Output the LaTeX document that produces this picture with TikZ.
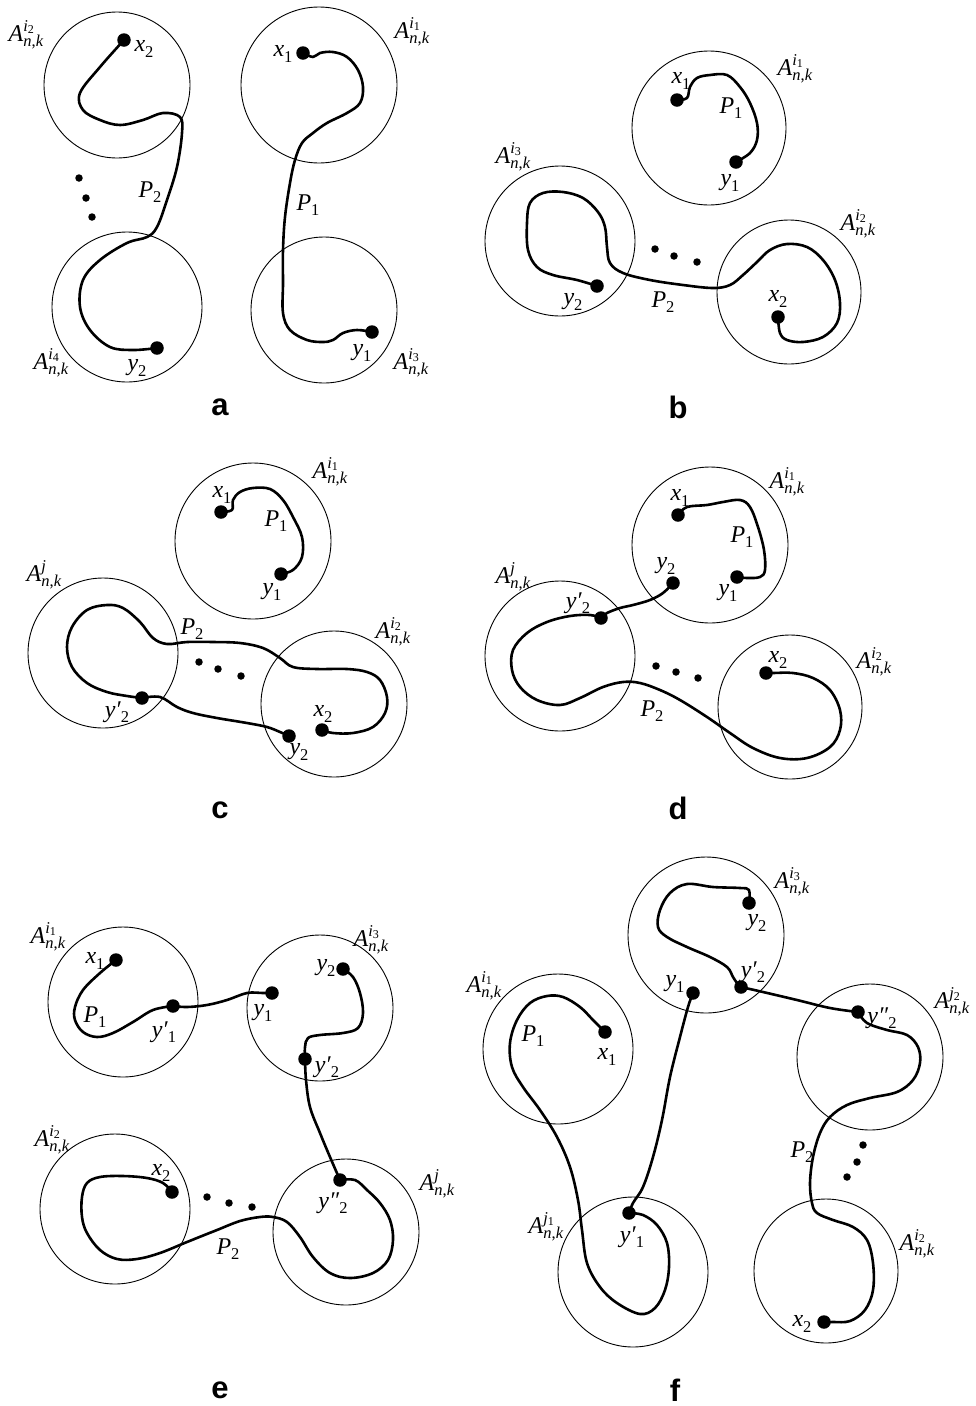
\documentclass[tikz,border=0pt]{standalone}
\usepackage{fontspec}
\setmainfont{Liberation Serif}
\setsansfont{Liberation Sans}
\newcommand{\mf}{\fontsize{24}{26}\selectfont}
\newcommand{\sfn}{\fontsize{16.5}{18}\selectfont}
\newcommand{\ssf}{\fontsize{12}{13}\selectfont}
\newcommand{\Ank}[1]{\textit{A}\rlap{\raisebox{10pt}{\sfn #1}}\raisebox{-5.5pt}{\sfn\textit{n},\textit{k}}}
\newcommand{\supidx}[2]{\textit{#1}\raisebox{-2.5pt}{\ssf #2}}
\newcommand{\lsub}[2]{\textit{#1}\raisebox{-5.5pt}{\sfn #2}}
\tikzset{
  zone/.style={draw, circle, line width=0.9pt, inner sep=0pt},
  bigdot/.style={circle, fill, inner sep=0pt, minimum size=13.5pt},
  smalldot/.style={circle, fill, inner sep=0pt, minimum size=7.5pt},
  curve/.style={line width=2.6pt, line join=round, line cap=round},
  lbl/.style={font=\mf, inner sep=0pt},
  panel/.style={font=\sffamily\bfseries\fontsize{31}{31}\selectfont, inner sep=0pt}
}
\begin{document}
\begin{tikzpicture}[x=1pt,y=-1pt]
\useasboundingbox (0,0) rectangle (975,1406);
% ================= panel a
\node[zone, minimum size=146pt] (aC1) at (117,85) {};
\node[zone, minimum size=156pt] (aC2) at (319,85) {};
\node[zone, minimum size=150pt] (aC3) at (127,307) {};
\node[zone, minimum size=146pt] (aC4) at (324,310) {};
\node[bigdot] (ax2) at (124,40) {};
\node[bigdot] (ax1) at (303,53) {};
\node[bigdot] (ay2) at (157,348) {};
\node[bigdot] (ay1) at (372,332) {};
\node[smalldot] (ad1) at (79,178) {};
\node[smalldot] (ad2) at (86,198) {};
\node[smalldot] (ad3) at (92,217) {};
\draw[curve] plot[smooth, tension=0.6] coordinates {(ax2.center) (100,67) (80,93) (83,110) (100,120) (120,125) (143,120) (163,113) (180,117) (182,133) (177,167) (167,200) (157,227) (147,237) (127,243) (100,260) (83,280) (80,307) (90,330) (110,347) (133,350) (ay2.center)};
\draw[curve] plot[smooth, tension=0.6] coordinates {(ax1.center) (313,57) (320,53) (333,52) (347,57) (358,70) (363,87) (360,103) (347,113) (327,123) (313,133) (302,143) (295,160) (290,183) (285,217) (283,250) (283,283) (283,313) (290,330) (307,340) (323,342) (333,340) (343,333) (357,330) (ay1.center)};
\node[lbl] (aL1) at (26,35) {\Ank{\supidx{i}{2}}};
\node[lbl] (aL2) at (144,49) {\lsub{x}{2}};
\node[lbl] (aL3) at (412,32) {\Ank{\supidx{i}{1}}};
\node[lbl] (aL4) at (283,54) {\lsub{x}{1}};
\node[lbl] (aL5) at (150,192) {\lsub{P}{2}};
\node[lbl] (aL6) at (308,205) {\lsub{P}{1}};
\node[lbl] (aL7) at (51,363) {\Ank{\supidx{i}{4}}};
\node[lbl] (aL8) at (137,368) {\lsub{y}{2}};
\node[lbl] (aL9) at (362,353) {\lsub{y}{1}};
\node[lbl] (aL10) at (411,363) {\Ank{\supidx{i}{3}}};
\node[panel] (aT) at (220,407) {a};
% ================= panel b
\node[zone, minimum size=154pt] (bC1) at (709,128) {};
\node[zone, minimum size=150pt] (bC2) at (560,241) {};
\node[zone, minimum size=144pt] (bC3) at (789,292) {};
\node[bigdot] (bx1) at (677,100) {};
\node[bigdot] (by1) at (736,162) {};
\node[bigdot] (by2) at (597,286) {};
\node[bigdot] (bx2) at (778,317) {};
\node[smalldot] (bd1) at (655,249) {};
\node[smalldot] (bd2) at (674,256) {};
\node[smalldot] (bd3) at (697,262) {};
\draw[curve] plot[smooth, tension=0.6] coordinates {(bx1.center) (687,98) (690,87) (697,78) (710,75) (727,75) (740,87) (750,103) (757,123) (757,140) (750,153) (by1.center)};
\draw[curve] plot[smooth, tension=0.6] coordinates {(by2.center) (577,280) (553,275) (537,267) (528,250) (527,223) (530,203) (543,193) (563,192) (583,198) (598,212) (605,227) (607,247) (610,263) (623,273) (650,280) (683,285) (713,288) (730,285) (743,275) (757,262) (770,250) (787,244) (807,247) (823,260) (835,280) (840,303) (837,323) (823,337) (803,342) (787,340) (780,333) (bx2.center)};
\node[lbl] (bL1) at (681,81) {\lsub{x}{1}};
\node[lbl] (bL2) at (795,69) {\Ank{\supidx{i}{1}}};
\node[lbl] (bL3) at (731,108) {\lsub{P}{1}};
\node[lbl] (bL4) at (730,183) {\lsub{y}{1}};
\node[lbl] (bL5) at (513,157) {\Ank{\supidx{i}{3}}};
\node[lbl] (bL6) at (858,224) {\Ank{\supidx{i}{2}}};
\node[lbl] (bL7) at (573,302) {\lsub{y}{2}};
\node[lbl] (bL8) at (663,302) {\lsub{P}{2}};
\node[lbl] (bL9) at (778,299) {\lsub{x}{2}};
\node[panel] (bT) at (678,407) {b};
% ================= panel c
\node[zone, minimum size=156pt] (cC1) at (253,541) {};
\node[zone, minimum size=150pt] (cC2) at (103,653) {};
\node[zone, minimum size=146pt] (cC3) at (334,704) {};
\node[bigdot] (cx1) at (221,512) {};
\node[bigdot] (cy1) at (281,574) {};
\node[bigdot] (cyp2) at (142,698) {};
\node[bigdot] (cy2) at (289,736) {};
\node[bigdot] (cx2) at (322,730) {};
\node[smalldot] (cd1) at (199,662) {};
\node[smalldot] (cd2) at (218,669) {};
\node[smalldot] (cd3) at (241,676) {};
\draw[curve] plot[smooth, tension=0.6] coordinates {(cx1.center) (232,510) (233,500) (240,492) (253,488) (270,489) (283,500) (293,517) (302,537) (302,557) (293,570) (cy1.center)};
\draw[curve] plot[smooth, tension=0.6] coordinates {(cx2.center) (333,733) (353,733) (373,727) (385,713) (387,697) (380,680) (367,672) (347,669) (317,669) (293,667) (280,658) (263,648) (240,643) (213,642) (187,642) (167,644) (153,638) (140,622) (123,608) (107,605) (87,610) (72,627) (67,647) (72,667) (87,683) (107,692) (127,696) (cyp2.center)};
\draw[curve] plot[smooth, tension=0.6] coordinates {(cyp2.center) (160,697) (177,707) (193,713) (217,718) (247,723) (267,727) (280,732) (cy2.center)};
\node[lbl] (cL1) at (222,495) {\lsub{x}{1}};
\node[lbl] (cL2) at (330,472) {\Ank{\supidx{i}{1}}};
\node[lbl] (cL3) at (276,521) {\lsub{P}{1}};
\node[lbl] (cL4) at (272,592) {\lsub{y}{1}};
\node[lbl] (cL5) at (44,575) {\Ank{\textit{j}}};
\node[lbl] (cL6) at (192,629) {\lsub{P}{2}};
\node[lbl] (cL7) at (393,632) {\Ank{\supidx{i}{2}}};
\node[lbl] (cL8) at (117,712) {\lsub{y′}{2}};
\node[lbl] (cL9) at (323,714) {\lsub{x}{2}};
\node[lbl] (cL10) at (299,752) {\lsub{y}{2}};
\node[panel] (cT) at (220,810) {c};
% ================= panel d
\node[zone, minimum size=156pt] (dC1) at (710,545) {};
\node[zone, minimum size=150pt] (dC2) at (560,656) {};
\node[zone, minimum size=144pt] (dC3) at (790,707) {};
\node[bigdot] (dx1) at (678,515) {};
\node[bigdot] (dy1) at (737,577) {};
\node[bigdot] (dy2) at (673,583) {};
\node[bigdot] (dyp2) at (601,618) {};
\node[bigdot] (dx2) at (766,673) {};
\node[smalldot] (dd1) at (656,666) {};
\node[smalldot] (dd2) at (676,672) {};
\node[smalldot] (dd3) at (698,678) {};
\draw[curve] plot[smooth, tension=0.6] coordinates {(dx1.center) (687,507) (707,505) (723,502) (740,500) (750,507) (758,527) (764,550) (765,570) (760,577) (747,578) (dy1.center)};
\draw[curve] plot[smooth, tension=0.6] coordinates {(dy2.center) (663,593) (650,600) (633,605) (620,608) (607,613) (dyp2.center)};
\draw[curve] plot[smooth, tension=0.6] coordinates {(dyp2.center) (590,615) (570,616) (547,622) (527,633) (513,650) (512,670) (520,687) (537,700) (560,705) (580,698) (603,687) (623,682) (640,683) (660,690) (680,700) (707,717) (730,733) (753,748) (780,758) (807,758) (830,747) (840,730) (840,710) (830,690) (813,678) (793,673) (773,673) (dx2.center)};
\node[lbl] (dL1) at (680,498) {\lsub{x}{1}};
\node[lbl] (dL2) at (787,482) {\Ank{\supidx{i}{1}}};
\node[lbl] (dL3) at (742,537) {\lsub{P}{1}};
\node[lbl] (dL4) at (666,566) {\lsub{y}{2}};
\node[lbl] (dL5) at (728,593) {\lsub{y}{1}};
\node[lbl] (dL6) at (513,577) {\Ank{\textit{j}}};
\node[lbl] (dL7) at (578,603) {\lsub{y′}{2}};
\node[lbl] (dL8) at (778,660) {\lsub{x}{2}};
\node[lbl] (dL9) at (874,662) {\Ank{\supidx{i}{2}}};
\node[lbl] (dL10) at (652,711) {\lsub{P}{2}};
\node[panel] (dT) at (678,808) {d};
% ================= panel e
\node[zone, minimum size=150pt] (eC1) at (123,1002) {};
\node[zone, minimum size=146pt] (eC2) at (320,1008) {};
\node[zone, minimum size=150pt] (eC3) at (115,1209) {};
\node[zone, minimum size=146pt] (eC4) at (346,1232) {};
\node[bigdot] (ex1) at (116,960) {};
\node[bigdot] (eyp1) at (173,1006) {};
\node[bigdot] (ey1) at (272,993) {};
\node[bigdot] (ey2) at (343,969) {};
\node[bigdot] (eyp2) at (305,1059) {};
\node[bigdot] (ex2) at (172,1192) {};
\node[bigdot] (eypp2) at (340,1180) {};
\node[smalldot] (ed1) at (207,1197) {};
\node[smalldot] (ed2) at (229,1203) {};
\node[smalldot] (ed3) at (252,1207) {};
\draw[curve] plot[smooth, tension=0.6] coordinates {(ex1.center) (100,973) (83,990) (75,1007) (75,1020) (83,1032) (97,1037) (113,1033) (133,1022) (153,1010) (eyp1.center)};
\draw[curve] plot[smooth, tension=0.6] coordinates {(eyp1.center) (187,1007) (207,1005) (227,1000) (247,993) (263,993) (ey1.center)};
\draw[curve] plot[smooth, tension=0.6] coordinates {(ey2.center) (353,977) (360,993) (363,1013) (358,1028) (343,1033) (320,1035) (308,1038) (305,1047) (eyp2.center)};
\draw[curve] plot[smooth, tension=0.6] coordinates {(eyp2.center) (306,1080) (310,1107) (320,1133) (330,1157) (eypp2.center)};
\draw[curve] plot[smooth, tension=0.6] coordinates {(ex2.center) (163,1183) (147,1178) (123,1176) (100,1177) (87,1183) (82,1197) (82,1217) (87,1233) (100,1250) (117,1259) (137,1259) (160,1253) (187,1242) (217,1230) (240,1221) (260,1217) (273,1217) (287,1222) (300,1237) (313,1257) (330,1273) (350,1278) (373,1273) (388,1260) (393,1240) (390,1220) (380,1203) (367,1190) (355,1180) (eypp2.center)};
\node[lbl] (eL1) at (48,937) {\Ank{\supidx{i}{1}}};
\node[lbl] (eL2) at (95,961) {\lsub{x}{1}};
\node[lbl] (eL3) at (95,1017) {\lsub{P}{1}};
\node[lbl] (eL4) at (164,1032) {\lsub{y′}{1}};
\node[lbl] (eL5) at (263,1013) {\lsub{y}{1}};
\node[lbl] (eL6) at (326,968) {\lsub{y}{2}};
\node[lbl] (eL7) at (371,940) {\Ank{\supidx{i}{3}}};
\node[lbl] (eL8) at (327,1067) {\lsub{y′}{2}};
\node[lbl] (eL9) at (52,1140) {\Ank{\supidx{i}{2}}};
\node[lbl] (eL10) at (161,1173) {\lsub{x}{2}};
\node[lbl] (eL11) at (333,1203) {\lsub{y″}{2}};
\node[lbl] (eL12) at (437,1184) {\Ank{\textit{j}}};
\node[lbl] (eL13) at (228,1249) {\lsub{P}{2}};
\node[panel] (eT) at (220,1390) {e};
% ================= panel f
\node[zone, minimum size=156pt] (fC1) at (706,935) {};
\node[zone, minimum size=150pt] (fC2) at (558,1049) {};
\node[zone, minimum size=146pt] (fC3) at (870,1057) {};
\node[zone, minimum size=150pt] (fC4) at (633,1272) {};
\node[zone, minimum size=144pt] (fC5) at (826,1271) {};
\node[bigdot] (fy2) at (749,903) {};
\node[bigdot] (fyp2) at (741,987) {};
\node[bigdot] (fy1) at (693,993) {};
\node[bigdot] (fx1) at (605,1032) {};
\node[bigdot] (fypp2) at (858,1012) {};
\node[bigdot] (fyp1) at (629,1213) {};
\node[bigdot] (fx2) at (824,1322) {};
\node[smalldot] (fd1) at (863,1145) {};
\node[smalldot] (fd2) at (857,1162) {};
\node[smalldot] (fd3) at (847,1177) {};
\draw[curve] plot[smooth, tension=0.6] coordinates {(fx1.center) (593,1020) (580,1007) (563,997) (547,996) (530,1003) (517,1020) (510,1043) (512,1067) (523,1087) (540,1110) (557,1137) (570,1167) (578,1200) (582,1230) (587,1263) (600,1287) (617,1303) (640,1314) (655,1308) (665,1290) (669,1267) (667,1243) (657,1225) (643,1215) (fyp1.center)};
\draw[curve] plot[smooth, tension=0.6] coordinates {(fy1.center) (688,1007) (680,1037) (670,1077) (662,1120) (653,1157) (643,1187) (633,1203) (fyp1.center)};
\draw[curve] plot[smooth, tension=0.6] coordinates {(fy2.center) (749,890) (740,888) (713,887) (687,884) (670,893) (660,910) (658,927) (667,937) (687,947) (710,957) (727,967) (733,977) (737,983) (fyp2.center)};
\draw[curve] plot[smooth, tension=0.6] coordinates {(fyp2.center) (763,992) (797,1000) (830,1008) (fypp2.center)};
\draw[curve] plot[smooth, tension=0.6] coordinates {(fypp2.center) (867,1023) (887,1030) (907,1035) (918,1047) (920,1063) (913,1080) (897,1092) (870,1098) (847,1105) (830,1117) (820,1133) (813,1157) (810,1183) (812,1203) (817,1213) (833,1220) (853,1227) (867,1240) (873,1263) (873,1290) (865,1310) (850,1321) (833,1322) (fx2.center)};
\node[lbl] (fL1) at (792,882) {\Ank{\supidx{i}{3}}};
\node[lbl] (fL2) at (757,923) {\lsub{y}{2}};
\node[lbl] (fL3) at (753,972) {\lsub{y′}{2}};
\node[lbl] (fL4) at (675,984) {\lsub{y}{1}};
\node[lbl] (fL5) at (484,986) {\Ank{\supidx{i}{1}}};
\node[lbl] (fL6) at (533,1036) {\lsub{P}{1}};
\node[lbl] (fL7) at (607,1057) {\lsub{x}{1}};
\node[lbl] (fL8) at (952,1002) {\Ank{\supidx{j}{2}}};
\node[lbl] (fL9) at (882,1018) {\lsub{y″}{2}};
\node[lbl] (fL10) at (802,1152) {\lsub{P}{2}};
\node[lbl] (fL11) at (546,1227) {\Ank{\supidx{j}{1}}};
\node[lbl] (fL12) at (632,1237) {\lsub{y′}{1}};
\node[lbl] (fL13) at (917,1244) {\Ank{\supidx{i}{2}}};
\node[lbl] (fL14) at (802,1324) {\lsub{x}{2}};
\node[panel] (fT) at (675,1390) {f};
\end{tikzpicture}
\end{document}
